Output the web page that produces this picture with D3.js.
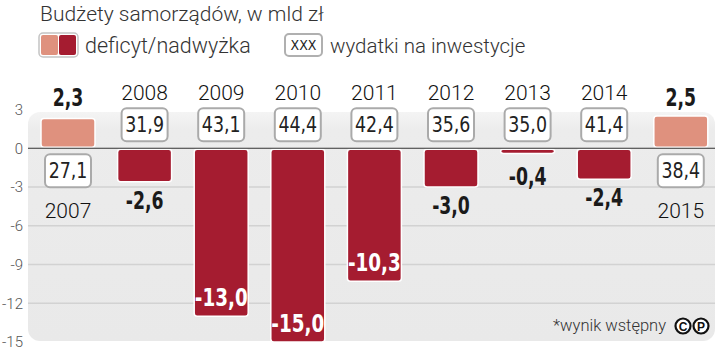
<!DOCTYPE html>
<html>
<head>
<meta charset="utf-8">
<script src="https://cdn.jsdelivr.net/npm/d3@7"></script>
<style>
  body { margin: 0; background: #fff; }
  svg { display: block; }
  .light { font-family: Roboto, "Open Sans", sans-serif; font-weight: 300; }
  .cond { font-family: "Liberation Sans Narrow", "DejaVu Sans Condensed", sans-serif; font-stretch: condensed; }
</style>
</head>
<body>
<svg id="chart" width="720" height="351"></svg>
<script>
// budget data, bln zl
const years = ["2007", "2008", "2009", "2010", "2011", "2012", "2013", "2014", "2015"];
const balance = [2.3, -2.6, -13.0, -15.0, -10.3, -3.0, -0.4, -2.4, 2.5];
const investment = [27.1, 31.9, 43.1, 44.4, 42.4, 35.6, 35.0, 41.4, 38.4];
const yTicks = [3, 0, -3, -6, -9, -12, -15];

const posColor = "#df917e";
const negColor = "#a51c30";

const pl = d3.formatLocale({decimal: ",", thousands: " ", grouping: [3], currency: ["", " zł"], minus: "-"});
const fmt = pl.format(".1f");

let svg = d3.select("#chart");

let x = d3.scaleBand().domain(years).range([29.7, 719.1]).paddingInner(0.295).paddingOuter(0.1475);
let y = d3.scaleLinear().domain([-15, 3]).range([342, 109.5]);
let y0 = y(0);

// title
svg.append("text").attr("class", "light")
    .attr("x", 40).attr("y", 21)
    .attr("font-size", 21).attr("fill", "#333")
    .text("Budżety samorządów, w mld zł");

// legend
let lg = svg.append("g");
lg.append("rect").attr("x", 39).attr("y", 33).attr("width", 39).attr("height", 24).attr("rx", 4)
    .attr("fill", "#fff").attr("stroke", "#c4c4c4").attr("stroke-width", 1.5);
lg.append("rect").attr("x", 41).attr("y", 35).attr("width", 17).attr("height", 20).attr("rx", 2).attr("fill", posColor);
lg.append("rect").attr("x", 59).attr("y", 35).attr("width", 17).attr("height", 20).attr("rx", 2).attr("fill", negColor);
lg.append("text").attr("class", "light").attr("x", 85).attr("y", 53)
    .attr("font-size", 21.5).attr("fill", "#333").text("deficyt/nadwyżka");
lg.append("rect").attr("x", 285).attr("y", 34).attr("width", 37).attr("height", 22).attr("rx", 4)
    .attr("fill", "#fff").attr("stroke", "#b0b0b0").attr("stroke-width", 2);
lg.append("text").attr("class", "cond").attr("x", 303.5).attr("y", 50).attr("text-anchor", "middle")
    .attr("font-size", 14).attr("fill", "#222").text("XXX");
lg.append("text").attr("class", "light").attr("x", 330).attr("y", 53)
    .attr("font-size", 20.5).attr("fill", "#333").text("wydatki na inwestycje");

// panel background
let defs = svg.append("defs");
let grad = defs.append("linearGradient").attr("id", "panelGrad").attr("x1", 0).attr("x2", 0).attr("y1", 0).attr("y2", 1);
grad.append("stop").attr("offset", "0%").attr("stop-color", "#f4f4f4");
grad.append("stop").attr("offset", "8%").attr("stop-color", "#ececec");
grad.append("stop").attr("offset", "100%").attr("stop-color", "#e9e9e9");
svg.append("rect").attr("x", 28).attr("y", 112).attr("width", 687).attr("height", 229).attr("rx", 12)
    .attr("fill", "url(#panelGrad)");

// grid lines
svg.selectAll("line.grid").data(yTicks.filter(d => d < 0 && d > -15))
    .join("line").attr("class", "grid")
    .attr("x1", 28).attr("x2", 715)
    .attr("y1", d => y(d)).attr("y2", d => y(d))
    .attr("stroke", "#d2d2d2").attr("stroke-width", 1.5);

// y tick labels
svg.selectAll("text.tick").data(yTicks)
    .join("text").attr("class", "tick light")
    .attr("x", 23).attr("y", d => y(d)).attr("dy", "0.35em")
    .attr("text-anchor", "end").attr("font-size", 15).attr("fill", "#555")
    .text(d => d);

let data = years.map((yr, i) => ({year: yr, val: balance[i], inv: investment[i]}));

// bars
svg.selectAll("rect.bar").data(data)
    .join("rect").attr("class", "bar")
    .attr("x", d => x(d.year))
    .attr("width", x.bandwidth())
    .attr("y", d => d.val > 0 ? y(d.val) : y0 + 1)
    .attr("height", d => Math.max(Math.abs(y(d.val) - y0) - 1, 3))
    .attr("rx", 3)
    .attr("fill", d => d.val > 0 ? posColor : negColor)
    .attr("stroke", "#fff").attr("stroke-width", 1.5);

// zero line
svg.append("line").attr("x1", 28).attr("x2", 715).attr("y1", y0).attr("y2", y0)
    .attr("stroke", "#333").attr("stroke-width", 1);

// investment boxes
let cx = d => x(d.year) + x.bandwidth() / 2;
let boxTop = d => d.val > 0 ? y0 + 6 : y0 - 40;
svg.selectAll("rect.inv").data(data)
    .join("rect").attr("class", "inv")
    .attr("x", d => cx(d) - 23).attr("y", boxTop)
    .attr("width", 46).attr("height", 33).attr("rx", 5)
    .attr("fill", "#fff").attr("stroke", "#aaa").attr("stroke-width", 2);
svg.selectAll("text.inv").data(data)
    .join("text").attr("class", "inv cond")
    .attr("transform", d => `translate(${cx(d)},${boxTop(d) + 24}) scale(0.9,1)`)
    .attr("text-anchor", "middle").attr("font-size", 21.5).attr("fill", "#222")
    .text(d => fmt(d.inv));

// year labels
svg.selectAll("text.year").data(data)
    .join("text").attr("class", "year")
    .attr("x", cx).attr("y", d => d.val > 0 ? 218 : 100)
    .attr("text-anchor", "middle").attr("font-size", 21)
    .attr("font-family", "Roboto, sans-serif").attr("font-weight", 300).attr("fill", "#111")
    .text(d => d.year);

// value labels
let valY = d => {
    if (d.val > 0) return 106;
    if (d.val < -5) return y(d.val) - 10;
    return Math.max(y(d.val) + 10, y0 + 20) + 17;
};
svg.selectAll("text.val").data(data)
    .join("text").attr("class", "val cond")
    .attr("transform", d => `translate(${cx(d)},${valY(d)}) scale(0.8,1)`)
    .attr("text-anchor", "middle")
    .attr("font-weight", "bold")
    .attr("font-size", d => d.val < -5 ? 25.5 : 24)
    .attr("fill", d => d.val < -5 ? "#fff" : "#1a1a1a")
    .text(d => fmt(d.val));

// footnote
svg.append("text").attr("class", "light").attr("x", 666).attr("y", 331)
    .attr("text-anchor", "end").attr("font-size", 16.5).attr("fill", "#333")
    .text("*wynik wstępny");
let icons = svg.append("g");
[["C", 683], ["P", 701]].forEach(([ch, px]) => {
    icons.append("circle").attr("cx", px).attr("cy", 326).attr("r", 7.5)
        .attr("fill", "#fff").attr("stroke", "#111").attr("stroke-width", 2.2);
    icons.append("text").attr("x", px).attr("y", 331).attr("text-anchor", "middle")
        .attr("font-family", "Liberation Sans, sans-serif").attr("font-weight", "bold")
        .attr("font-size", 12).attr("fill", "#111").text(ch);
});
</script>
</body>
</html>
